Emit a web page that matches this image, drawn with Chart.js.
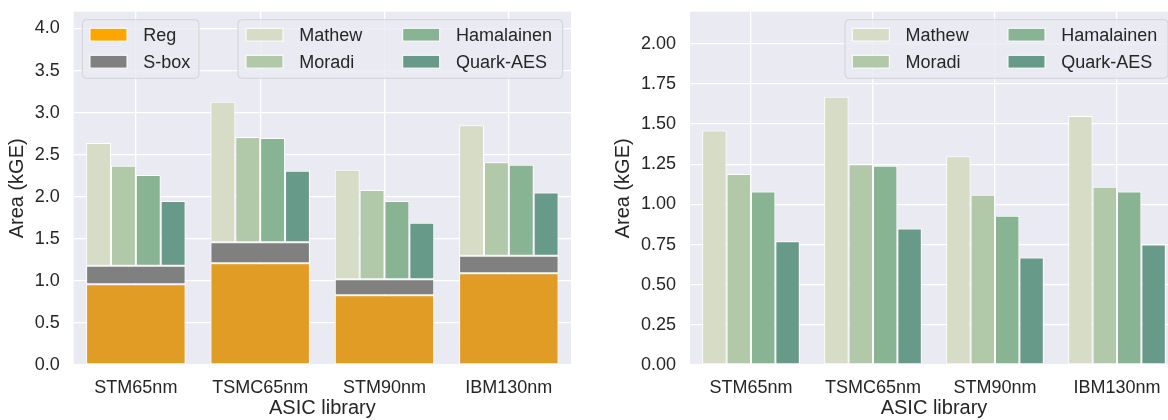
<!DOCTYPE html>
<html>
<head>
<meta charset="utf-8">
<script src="https://cdn.jsdelivr.net/npm/chart.js@4.4.0/dist/chart.umd.min.js"></script>
<style>
  html, body { margin: 0; padding: 0; background: #fff; overflow: hidden; }
  #left { position: absolute; left: 0; top: 0; }
  #right { position: absolute; left: 590px; top: 0; }
</style>
</head>
<body>
<canvas id="left" width="590" height="420"></canvas>
<canvas id="right" width="600" height="420"></canvas>
<script>
// data (kGE)
const libraries = ['STM65nm', 'TSMC65nm', 'STM90nm', 'IBM130nm'];
const reg = [0.96, 1.21, 0.83, 1.09];
const sbox = [0.22, 0.25, 0.19, 0.21];
const mathew = [1.46, 1.67, 1.30, 1.55];
const moradi = [1.19, 1.25, 1.06, 1.11];
const hamalainen = [1.08, 1.24, 0.93, 1.08];
const quarkAes = [0.77, 0.85, 0.67, 0.75];
const leftTicks = [0, 0.5, 1, 1.5, 2, 2.5, 3, 3.5, 4];
const rightTicks = [0, 0.25, 0.5, 0.75, 1, 1.25, 1.5, 1.75, 2];

const FONT = "'Liberation Sans', Arial, sans-serif";
const TEXT = '#262626';
const greens = [
  { label: 'Mathew', data: mathew, color: '#d6dcc6' },
  { label: 'Moradi', data: moradi, color: '#b1c9a9' },
  { label: 'Hamalainen', data: hamalainen, color: '#89b494' },
  { label: 'Quark-AES', data: quarkAes, color: '#689a8a' }
];

// paints the seaborn grey background behind the grid
const bgPlugin = {
  id: 'bg',
  beforeDraw(chart) {
    const { ctx, chartArea: a } = chart;
    ctx.save();
    ctx.fillStyle = '#eaeaf2';
    ctx.fillRect(a.left, a.top, a.right - a.left, a.bottom - a.top);
    ctx.restore();
  }
};

// legend boxes drawn from the datasets, seaborn style
const boxLegendPlugin = {
  id: 'boxLegend',
  afterDraw(chart, args, opts) {
    const ctx = chart.ctx;
    (opts.boxes || []).forEach(b => {
      ctx.save();
      ctx.beginPath();
      ctx.roundRect(b.x, b.y, b.w, b.h, 4);
      ctx.fillStyle = 'rgba(234,234,242,0.8)';
      ctx.fill();
      ctx.strokeStyle = 'rgba(204,204,204,0.8)';
      ctx.lineWidth = 1;
      ctx.stroke();
      ctx.font = '18px ' + FONT;
      ctx.textBaseline = 'middle';
      ctx.textAlign = 'left';
      b.items.forEach((di, i) => {
        const ds = chart.data.datasets[di];
        const col = Math.floor(i / 2), row = i % 2;
        const px = b.px + col * b.colStep;
        const cy = b.y + 15 + row * 27;
        ctx.fillStyle = ds.legendColor || ds.backgroundColor;
        ctx.fillRect(px, cy - 6.4, 37, 12.8);
        ctx.strokeStyle = '#ffffff';
        ctx.strokeRect(px, cy - 6.4, 37, 12.8);
        ctx.fillStyle = TEXT;
        ctx.fillText(ds.label, px + 53.3, cy + 1);
      });
      ctx.restore();
    });
  }
};

function scales(yMax, step, ticks, digits, yWidth, titlePad) {
  return {
    x: {
      grid: { color: '#ffffff', lineWidth: 1.3, offset: false, drawTicks: false },
      border: { display: false },
      ticks: { color: TEXT, font: { size: 18, family: FONT }, padding: 12 },
      title: { display: true, text: 'ASIC library', color: TEXT, font: { size: 20, family: FONT }, padding: { top: 0, bottom: 0 } },
      afterFit: s => { s.height = 55; s.paddingLeft = 0; s.paddingRight = 0; }
    },
    y: {
      min: 0,
      max: yMax,
      grid: { color: '#ffffff', lineWidth: 1.3, drawTicks: false },
      border: { display: false },
      afterBuildTicks: s => { s.ticks = ticks.map(v => ({ value: v })); },
      ticks: { stepSize: step, color: TEXT, font: { size: 18, family: FONT }, padding: 14,
        callback: v => Number(v).toFixed(digits) },
      title: { display: true, text: 'Area (kGE)', color: TEXT, font: { size: 20, family: FONT }, padding: { top: titlePad, bottom: 0 } },
      afterFit: s => { s.width = yWidth; s.paddingTop = 0; s.paddingBottom = 0; }
    }
  };
}

const barStyle = { borderColor: '#ffffff', borderWidth: 1, borderSkipped: false, categoryPercentage: 0.8, barPercentage: 1 };

// left: register + s-box base, component bars stacked on top
const base = reg.map((r, i) => r + sbox[i]);
const leftSets = [
  Object.assign({ label: 'Reg', data: reg, backgroundColor: '#e09c24', legendColor: '#ffa500', grouped: false }, barStyle),
  Object.assign({ label: 'S-box', data: reg.map((r, i) => [r, base[i]]), backgroundColor: '#808080', grouped: false }, barStyle)
];
greens.forEach(g => {
  leftSets.push(Object.assign({ label: g.label, data: g.data.map((v, i) => [base[i], base[i] + v]), backgroundColor: g.color }, barStyle));
});

new Chart(document.getElementById('left'), {
  type: 'bar',
  data: { labels: libraries, datasets: leftSets },
  options: {
    responsive: false,
    animation: false,
    layout: { padding: { top: 11.7, right: 19, left: 0, bottom: 0 } },
    plugins: {
      legend: { display: false },
      tooltip: { enabled: false },
      boxLegend: { boxes: [
        { x: 82.3, y: 19.7, w: 116.7, h: 58.6, px: 90, colStep: 0, items: [0, 1] },
        { x: 238, y: 19.7, w: 324.7, h: 58.6, px: 246, colStep: 156.7, items: [2, 3, 4, 5] }
      ] }
    },
    scales: scales(4.2, 0.5, leftTicks, 1, 73.7, 5.5)
  },
  plugins: [bgPlugin, boxLegendPlugin]
});

// right: the components on their own
new Chart(document.getElementById('right'), {
  type: 'bar',
  data: {
    labels: libraries,
    datasets: greens.map(g => Object.assign({ label: g.label, data: g.data, backgroundColor: g.color }, barStyle))
  },
  options: {
    responsive: false,
    animation: false,
    layout: { padding: { top: 11.7, right: 12, left: 0, bottom: 0 } },
    plugins: {
      legend: { display: false },
      tooltip: { enabled: false },
      boxLegend: { boxes: [
        { x: 255, y: 19.7, w: 323, h: 58.6, px: 262.3, colStep: 155.7, items: [0, 1, 2, 3] }
      ] }
    },
    scales: scales(2.2, 0.25, rightTicks, 2, 100, 21.3)
  },
  plugins: [bgPlugin, boxLegendPlugin]
});
</script>
</body>
</html>
